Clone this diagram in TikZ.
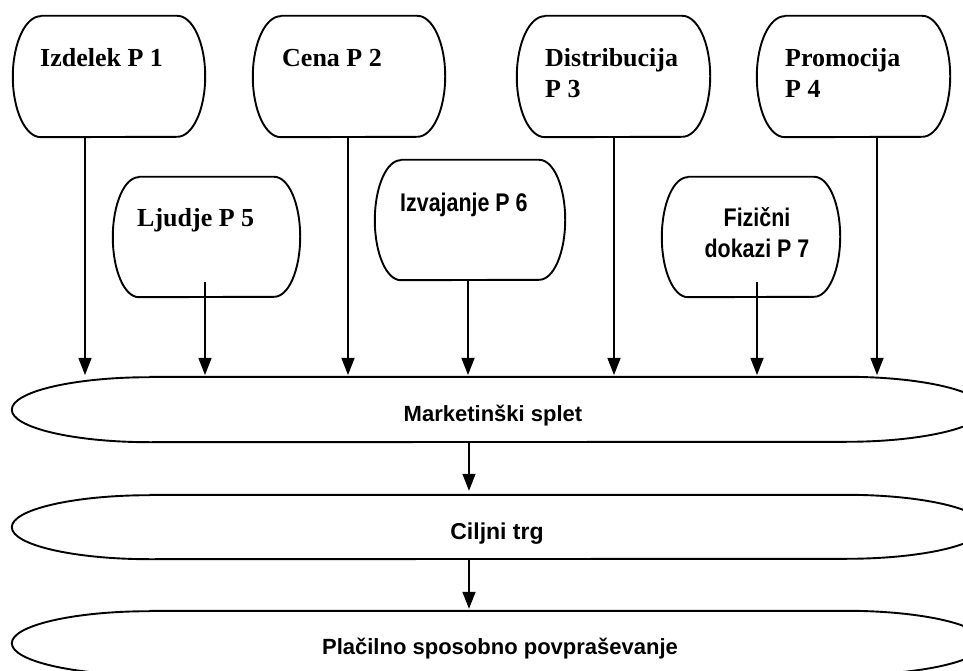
\documentclass[tikz,border=0pt]{standalone}
\usepackage{fontspec}
\setmainfont{Liberation Serif}
\newfontfamily\labelsans{Liberation Sans}
\newfontfamily\narrowsans[FakeStretch=0.84]{Liberation Sans}
\usetikzlibrary{arrows.meta,calc}

\tikzset{
  outline/.style={line width=1.9pt, line join=round},
  holder/.style={rectangle, inner sep=0pt, draw=none},
  arr/.style={line width=1.4pt, -{Triangle[length=17pt,width=13pt]}},
  seriflabel/.style={font=\fontsize{26}{31}\selectfont\bfseries, inner sep=0pt, anchor=base west, align=left},
  narrowlabel/.style={font=\narrowsans\fontsize{25.5}{31}\selectfont\bfseries, inner sep=0pt},
  bandlabel/.style={font=\labelsans\fontsize{22}{26}\selectfont\bfseries, inner sep=0pt, anchor=base},
}

% outline with straight top and bottom and half-elliptic ends
% #1 node name, #2 horizontal radius of the ends, #3 half of the node height
\newcommand\capoutline[3]{%
  \draw[outline] ($(#1.north west)+(#2pt,0pt)$) -- ($(#1.north east)+(-#2pt,0pt)$)
    arc[start angle=90, end angle=-90, x radius=#2pt, y radius=#3pt]
    -- ($(#1.south west)+(#2pt,0pt)$)
    arc[start angle=270, end angle=90, x radius=#2pt, y radius=#3pt] -- cycle;}

\begin{document}
\begin{tikzpicture}[x=1pt,y=1pt]
\clip (0,0) rectangle (963,670);
\fill[white] (0,0) rectangle (963,670);

% the four P's
\node[holder, minimum width=192pt, minimum height=121pt] (p1) at (109,593.5) {};
\node[holder, minimum width=192pt, minimum height=121pt] (p2) at (349,593.5) {};
\node[holder, minimum width=193pt, minimum height=121pt] (p3) at (613.5,593.5) {};
\node[holder, minimum width=193pt, minimum height=121pt] (p4) at (853.5,593.5) {};
% the three service P's
\node[holder, minimum width=187pt, minimum height=120pt] (p5) at (206.5,433) {};
\node[holder, minimum width=190pt, minimum height=120pt] (p6) at (470,450) {};
\node[holder, minimum width=178pt, minimum height=120pt] (p7) at (751,433) {};
% the three bands
\node[holder, minimum width=972pt, minimum height=65pt] (e1) at (498,260.5) {};
\node[holder, minimum width=972pt, minimum height=64pt] (e2) at (498,143) {};
\node[holder, minimum width=972pt, minimum height=64pt] (e3) at (498,27) {};

\capoutline{p1}{28}{60.5}
\capoutline{p2}{28}{60.5}
\capoutline{p3}{28}{60.5}
\capoutline{p4}{28}{60.5}
\capoutline{p5}{26}{60}
\capoutline{p6}{26}{60}
\capoutline{p7}{26}{60}
\capoutline{e1}{138}{32.5}
\capoutline{e2}{138}{32}
\capoutline{e3}{138}{32}

% labels (multi-line ones are anchored on their last line)
\node[seriflabel] (l1) at (40,603) {Izdelek P 1};
\node[seriflabel] (l2) at (282,603) {Cena P 2};
\node[seriflabel] (l3) at (545,572) {Distribucija\\P 3};
\node[seriflabel] (l4) at (785,572) {Promocija\\P 4};
\node[seriflabel] (l5) at (137,443) {Ljudje P 5};
\node[narrowlabel, anchor=base west] (l6) at (400,458) {Izvajanje P 6};
\node[narrowlabel, anchor=base, align=center] (l7) at (757,412) {Fizični\\dokazi P 7};
\node[bandlabel] (l8) at (493,249) {Marketinški splet};
\node[bandlabel, font=\labelsans\fontsize{23}{28}\selectfont\bfseries] (l9) at (497,131) {Ciljni trg};
\node[bandlabel] (l10) at (500,16) {Plačilno sposobno povpraševanje};

% arrow ends on the top of the first band
\coordinate (t1) at (85,295);
\coordinate (t2) at (205,295);
\coordinate (t3) at (348,295);
\coordinate (t4) at (468,295);
\coordinate (t5) at (614,295);
\coordinate (t6) at (757,295);
\coordinate (t7) at (877,295);
\coordinate (mid) at (469,0);

\draw[arr] (p1.south -| t1) -- (t1);
\draw[arr] ($(p5.south -| t2)+(0,15)$) -- (t2);
\draw[arr] (p2.south -| t3) -- (t3);
\draw[arr] (p6.south -| t4) -- (t4);
\draw[arr] (p3.south -| t5) -- (t5);
\draw[arr] ($(p7.south -| t6)+(0,15)$) -- (t6);
\draw[arr] (p4.south -| t7) -- (t7);

\draw[arr] (e1.south -| mid) -- ($(e2.north -| mid)+(0,4)$);
\draw[arr] (e2.south -| mid) -- ($(e3.north -| mid)+(0,2)$);
\end{tikzpicture}
\end{document}
